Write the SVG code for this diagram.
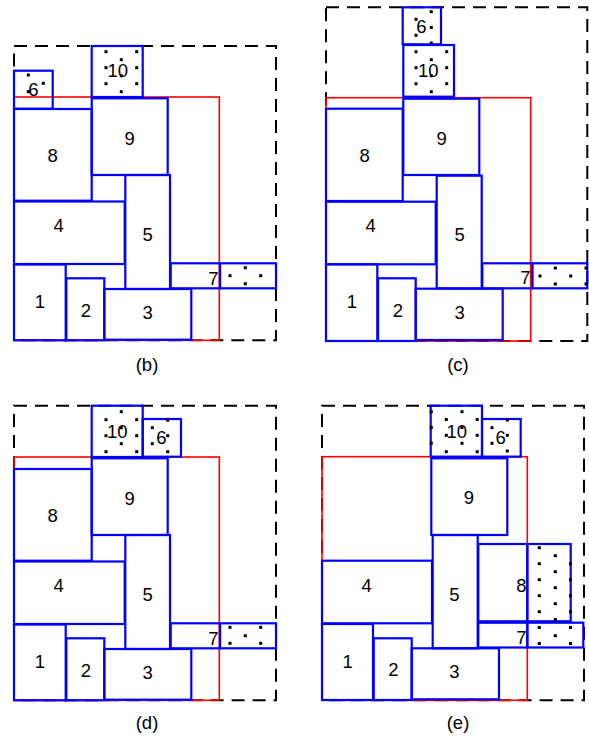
<svg xmlns="http://www.w3.org/2000/svg" width="589" height="738" viewBox="0 0 589 738">
<style>
.bg{fill:#fff}
.dash{fill:none;stroke:#000;stroke-width:2;stroke-dasharray:13,8}
.red{fill:none;stroke:#ff0000;stroke-width:1.6}
.blk{fill:none;stroke:#0000ff;stroke-width:2.2}
.dot{fill:#000}
text{font-family:"Liberation Sans",Arial,sans-serif;font-size:18.5px;fill:#000;text-anchor:middle}
.cap{font-size:18.5px}
</style>
<rect class="bg" x="0" y="0" width="589" height="738"/>

<!-- Panel (b) -->
<g id="panel-b">
  <g id="b-frame"><rect class="dash" x="14" y="46" width="262" height="294.3"/><rect class="red" x="14" y="97" width="205.3" height="243.3"/></g>
  <g id="b-6"><rect class="blk" x="14" y="70.7" width="38.7" height="38"/><rect class="dot" x="26.8" y="73.5" width="3" height="3"/><rect class="dot" x="41.8" y="81.8" width="3" height="3"/><rect class="dot" x="26.8" y="90.2" width="3" height="3"/><text x="33.5" y="96">6</text></g>
  <g id="b-10"><rect class="blk" x="91.7" y="46" width="51" height="51"/><rect class="dot" x="104.5" y="50.2" width="3" height="3"/><rect class="dot" x="135.2" y="50.2" width="3" height="3"/><rect class="dot" x="119.8" y="58.2" width="3" height="3"/><rect class="dot" x="104.5" y="66.2" width="3" height="3"/><rect class="dot" x="135.2" y="66.2" width="3" height="3"/><rect class="dot" x="119.8" y="74.2" width="3" height="3"/><rect class="dot" x="104.5" y="82.2" width="3" height="3"/><rect class="dot" x="135.2" y="82.2" width="3" height="3"/><rect class="dot" x="119.8" y="90.2" width="3" height="3"/><text x="117.8" y="77">10</text></g>
  <g id="b-8"><rect class="blk" x="14" y="109" width="77.7" height="91.7"/><text x="52.7" y="161.6">8</text></g>
  <g id="b-9"><rect class="blk" x="91.7" y="98.3" width="76" height="76.7"/><text x="129.7" y="145">9</text></g>
  <g id="b-5"><rect class="blk" x="125.3" y="175" width="44.7" height="114"/><text x="147.7" y="240.6">5</text></g>
  <g id="b-4"><rect class="blk" x="14" y="201.5" width="110.7" height="62.5"/><text x="58.7" y="232.3">4</text></g>
  <g id="b-1"><rect class="blk" x="14" y="264.5" width="51.7" height="75.8"/><text x="40" y="308.3">1</text></g>
  <g id="b-2"><rect class="blk" x="66.3" y="278.3" width="38" height="62"/><text x="86" y="316.6">2</text></g>
  <g id="b-3"><rect class="blk" x="104.3" y="289" width="87" height="50.7"/><text x="147.7" y="319.3">3</text></g>
  <g id="b-7"><rect class="blk" x="170.7" y="263.3" width="49.3" height="25"/><rect class="blk" x="220" y="263.3" width="56" height="25"/><rect class="dot" x="228.5" y="274.2" width="3" height="3"/><rect class="dot" x="243.8" y="266.2" width="3" height="3"/><rect class="dot" x="243.8" y="282.2" width="3" height="3"/><rect class="dot" x="259.2" y="274.2" width="3" height="3"/><text x="213.3" y="285">7</text></g>
  <text class="cap" x="147" y="371">(b)</text>
</g>

<!-- Panel (c) -->
<g id="panel-c" transform="translate(312,0)">
  <g id="c-frame"><rect class="dash" x="14" y="7.3" width="261.3" height="333.7"/><rect class="red" x="14" y="97.7" width="204.7" height="243.3"/></g>
  <g id="c-6"><rect class="blk" x="90.7" y="7.3" width="38.3" height="37"/><rect class="dot" x="117.8" y="10.2" width="3" height="3"/><rect class="dot" x="102.5" y="17.8" width="3" height="3"/><rect class="dot" x="117.8" y="26" width="3" height="3"/><rect class="dot" x="102.5" y="33.8" width="3" height="3"/><rect class="dot" x="117.8" y="41.5" width="3" height="3"/><text x="109.3" y="32.6">6</text></g>
  <g id="c-10"><rect class="blk" x="91.3" y="45" width="50.7" height="51.7"/><rect class="dot" x="102.5" y="50.2" width="3" height="3"/><rect class="dot" x="133.2" y="50.2" width="3" height="3"/><rect class="dot" x="117.8" y="58.2" width="3" height="3"/><rect class="dot" x="102.5" y="66.2" width="3" height="3"/><rect class="dot" x="133.2" y="66.2" width="3" height="3"/><rect class="dot" x="117.8" y="74.2" width="3" height="3"/><rect class="dot" x="102.5" y="82.2" width="3" height="3"/><rect class="dot" x="133.2" y="82.2" width="3" height="3"/><rect class="dot" x="117.8" y="90.2" width="3" height="3"/><text x="116.3" y="77.3">10</text></g>
  <g id="c-8"><rect class="blk" x="14" y="108.7" width="76.7" height="92.3"/><text x="52.7" y="161.6">8</text></g>
  <g id="c-9"><rect class="blk" x="91.3" y="98.7" width="76" height="76.3"/><text x="129.7" y="145">9</text></g>
  <g id="c-5"><rect class="blk" x="124.7" y="175.7" width="45" height="112.6"/><text x="147.7" y="240.6">5</text></g>
  <g id="c-4"><rect class="blk" x="14" y="201.7" width="109.7" height="62.6"/><text x="58.7" y="232.3">4</text></g>
  <g id="c-1"><rect class="blk" x="14" y="264.3" width="51.3" height="76.7"/><text x="40" y="308.3">1</text></g>
  <g id="c-2"><rect class="blk" x="66" y="278.3" width="37.7" height="62.7"/><text x="86" y="316.6">2</text></g>
  <g id="c-3"><rect class="blk" x="103.7" y="288.7" width="87" height="51.3"/><text x="147.7" y="319.3">3</text></g>
  <g id="c-7"><rect class="blk" x="170.3" y="263.3" width="50" height="25"/><rect class="blk" x="220.3" y="263.3" width="55" height="25"/><rect class="dot" x="226.5" y="274.5" width="3" height="3"/><rect class="dot" x="241.8" y="266.5" width="3" height="3"/><rect class="dot" x="241.8" y="282.5" width="3" height="3"/><rect class="dot" x="257.2" y="274.5" width="3" height="3"/><rect class="dot" x="272.5" y="266.5" width="3" height="3"/><rect class="dot" x="272.5" y="282.5" width="3" height="3"/><text x="213.3" y="284">7</text></g>
  <text class="cap" x="146" y="371">(c)</text>
</g>

<!-- Panel (d) -->
<g id="panel-d" transform="translate(0,360)">
  <g id="d-frame"><rect class="dash" x="14" y="45.7" width="262" height="294.6"/><rect class="red" x="14" y="97" width="205.3" height="243.3"/></g>
  <g id="d-10"><rect class="blk" x="91.7" y="45.7" width="51" height="51.3"/><rect class="dot" x="119.8" y="50.2" width="3" height="3"/><rect class="dot" x="104.5" y="58.2" width="3" height="3"/><rect class="dot" x="135.2" y="58.2" width="3" height="3"/><rect class="dot" x="119.8" y="66.2" width="3" height="3"/><rect class="dot" x="104.5" y="74.2" width="3" height="3"/><rect class="dot" x="135.2" y="74.2" width="3" height="3"/><rect class="dot" x="119.8" y="82.2" width="3" height="3"/><rect class="dot" x="104.5" y="90.2" width="3" height="3"/><rect class="dot" x="135.2" y="90.2" width="3" height="3"/><text x="117.3" y="77.6">10</text></g>
  <g id="d-6"><rect class="blk" x="142.7" y="59" width="38.3" height="37.7"/><rect class="dot" x="166.2" y="58.7" width="3" height="3"/><rect class="dot" x="150.8" y="66.2" width="3" height="3"/><rect class="dot" x="166.2" y="74.2" width="3" height="3"/><rect class="dot" x="150.8" y="82.2" width="3" height="3"/><rect class="dot" x="166.2" y="90.2" width="3" height="3"/><text x="161.3" y="84.3">6</text></g>
  <g id="d-8"><rect class="blk" x="14" y="109" width="77.7" height="91.7"/><text x="52.7" y="161.6">8</text></g>
  <g id="d-9"><rect class="blk" x="91.7" y="98.3" width="76" height="76.7"/><text x="129.7" y="145">9</text></g>
  <g id="d-5"><rect class="blk" x="125.3" y="175" width="44.7" height="114"/><text x="147.7" y="240.6">5</text></g>
  <g id="d-4"><rect class="blk" x="14" y="201.5" width="110.7" height="62.5"/><text x="58.7" y="232.3">4</text></g>
  <g id="d-1"><rect class="blk" x="14" y="264.5" width="51.7" height="75.8"/><text x="40" y="308.3">1</text></g>
  <g id="d-2"><rect class="blk" x="66.3" y="278.3" width="38" height="62"/><text x="86" y="316.6">2</text></g>
  <g id="d-3"><rect class="blk" x="104.3" y="289" width="87" height="50.7"/><text x="147.7" y="319.3">3</text></g>
  <g id="d-7"><rect class="blk" x="170.7" y="263.3" width="49.3" height="25"/><rect class="blk" x="220" y="263.3" width="56" height="25"/><rect class="dot" x="228.5" y="265.8" width="3" height="3"/><rect class="dot" x="259.2" y="265.8" width="3" height="3"/><rect class="dot" x="243.8" y="274.2" width="3" height="3"/><rect class="dot" x="228.5" y="281.8" width="3" height="3"/><rect class="dot" x="259.2" y="281.8" width="3" height="3"/><text x="213.3" y="285">7</text></g>
  <text class="cap" x="147" y="369">(d)</text>
</g>

<!-- Panel (e) -->
<g id="panel-e">
  <g id="e-frame"><rect class="dash" x="322" y="405.7" width="262" height="294.6"/><rect class="red" x="322" y="456.7" width="205.3" height="243.6"/></g>
  <g id="e-10"><rect class="blk" x="430.7" y="405.7" width="51.3" height="51"/><rect class="dot" x="429.8" y="410.2" width="3" height="3"/><rect class="dot" x="429.8" y="426" width="3" height="3"/><rect class="dot" x="429.8" y="441.8" width="3" height="3"/><rect class="dot" x="460.5" y="410.2" width="3" height="3"/><rect class="dot" x="444.8" y="418" width="3" height="3"/><rect class="dot" x="475.7" y="418" width="3" height="3"/><rect class="dot" x="460.5" y="426" width="3" height="3"/><rect class="dot" x="444.8" y="433.8" width="3" height="3"/><rect class="dot" x="475.7" y="433.8" width="3" height="3"/><rect class="dot" x="460.5" y="441.8" width="3" height="3"/><rect class="dot" x="444.8" y="450.2" width="3" height="3"/><rect class="dot" x="475.7" y="450.2" width="3" height="3"/><text x="456.7" y="437.6">10</text></g>
  <g id="e-6"><rect class="blk" x="482" y="419" width="38.7" height="37.7"/><rect class="dot" x="505.8" y="418.5" width="3" height="3"/><rect class="dot" x="490.5" y="426.2" width="3" height="3"/><rect class="dot" x="505.8" y="433.8" width="3" height="3"/><rect class="dot" x="490.5" y="441.8" width="3" height="3"/><rect class="dot" x="505.8" y="449.5" width="3" height="3"/><text x="500.7" y="444">6</text></g>
  <g id="e-9"><rect class="blk" x="431.3" y="458.3" width="76" height="76.7"/><text x="469" y="504.3">9</text></g>
  <g id="e-5"><rect class="blk" x="432.7" y="535" width="45" height="113.3"/><text x="454.3" y="600.6">5</text></g>
  <g id="e-4"><rect class="blk" x="322" y="560.7" width="110" height="62.6"/><text x="366.7" y="592.3">4</text></g>
  <g id="e-8"><rect class="blk" x="478.3" y="544" width="49" height="77.3"/><rect class="blk" x="527.3" y="544" width="43.4" height="77.3"/><rect class="dot" x="537.8" y="546.2" width="3" height="3"/><rect class="dot" x="537.8" y="562.2" width="3" height="3"/><rect class="dot" x="537.8" y="578.2" width="3" height="3"/><rect class="dot" x="537.8" y="594.2" width="3" height="3"/><rect class="dot" x="537.8" y="610.2" width="3" height="3"/><rect class="dot" x="553.8" y="554.2" width="3" height="3"/><rect class="dot" x="553.8" y="570.2" width="3" height="3"/><rect class="dot" x="553.8" y="586.2" width="3" height="3"/><rect class="dot" x="553.8" y="602.2" width="3" height="3"/><rect class="dot" x="553.8" y="618" width="3" height="3"/><rect class="dot" x="569" y="562.2" width="3" height="3"/><rect class="dot" x="569" y="578.2" width="3" height="3"/><rect class="dot" x="569" y="594.2" width="3" height="3"/><rect class="dot" x="569" y="610.2" width="3" height="3"/><text x="521.3" y="592.3">8</text></g>
  <g id="e-7"><rect class="blk" x="478.3" y="622.7" width="49" height="24.8"/><rect class="blk" x="527.3" y="622.7" width="56" height="24.8"/><rect class="dot" x="537.8" y="626" width="3" height="3"/><rect class="dot" x="569" y="626" width="3" height="3"/><rect class="dot" x="553.8" y="634.2" width="3" height="3"/><rect class="dot" x="537.8" y="642" width="3" height="3"/><rect class="dot" x="569" y="642" width="3" height="3"/><text x="521.3" y="644">7</text></g>
  <g id="e-1"><rect class="blk" x="322" y="624" width="51" height="76"/><text x="347.7" y="668.3">1</text></g>
  <g id="e-2"><rect class="blk" x="373.7" y="638.3" width="38" height="61.7"/><text x="393.3" y="675.6">2</text></g>
  <g id="e-3"><rect class="blk" x="411.7" y="648.3" width="87.3" height="51"/><text x="454.3" y="678.3">3</text></g>
  <text class="cap" x="458" y="729">(e)</text>
</g>
</svg>
